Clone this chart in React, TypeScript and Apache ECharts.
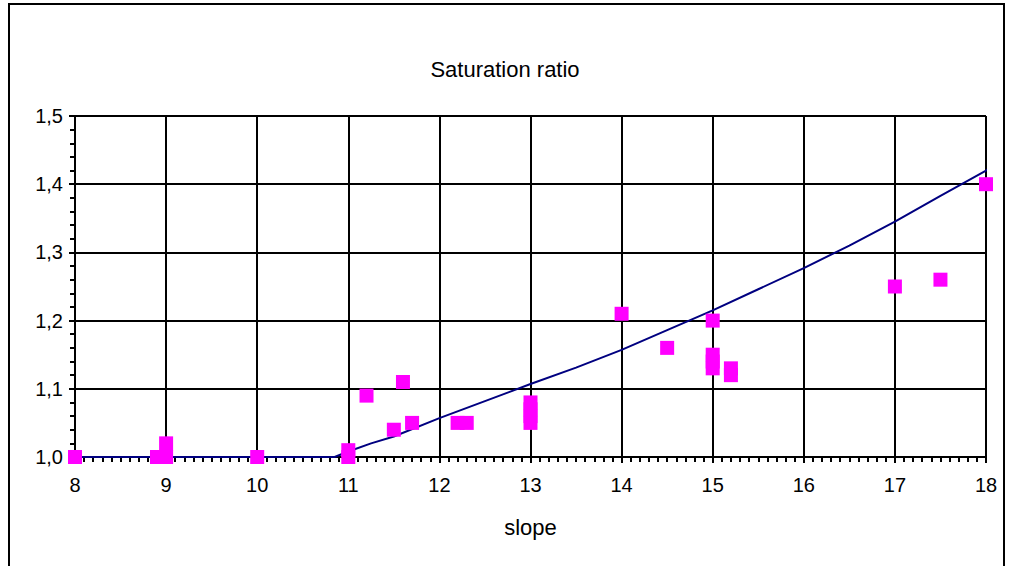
import React, { useEffect, useRef } from "react";
import * as echarts from "echarts";

const titleText = "Saturation ratio";
const xAxisName = "slope";

const pointX = [8, 8.9, 9, 9, 10, 11, 11, 11.2, 11.5, 11.6, 11.7, 12.2, 12.3, 13, 13, 13, 13, 14, 14.5, 15, 15, 15, 15, 15.2, 15.2, 17, 17.5, 18];
const pointY = [1.0, 1.0, 1.0, 1.02, 1.0, 1.0, 1.01, 1.09, 1.04, 1.11, 1.05, 1.05, 1.05, 1.05, 1.06, 1.07, 1.08, 1.21, 1.16, 1.2, 1.13, 1.14, 1.15, 1.12, 1.13, 1.25, 1.26, 1.4];

const lineX = [8, 10.85, 11, 11.25, 11.5, 12, 12.5, 13, 13.5, 14, 14.5, 15, 15.5, 16, 16.5, 17, 17.5, 18, 18.08];
const lineY = [1.0, 1.0, 1.008, 1.02, 1.03, 1.057, 1.082, 1.107, 1.131, 1.157, 1.186, 1.215, 1.246, 1.277, 1.31, 1.345, 1.383, 1.42, 1.428];

const FONT = "Liberation Sans, Arial, sans-serif";

export default function App() {
  const ref = useRef<HTMLDivElement>(null);
  useEffect(() => {
    document.body.style.margin = "0";
    const chart = echarts.init(ref.current!, undefined, { renderer: "svg" });
    chart.setOption({
      animation: false,
      backgroundColor: "#ffffff",
      title: {
        text: titleText,
        left: "center",
        top: 53,
        textStyle: { fontFamily: FONT, fontSize: 22, fontWeight: "normal", color: "#000" },
      },
      graphic: [
        {
          type: "rect",
          shape: { x: 9, y: 4, width: 995, height: 570 },
          style: { fill: "none", stroke: "#000", lineWidth: 2 },
          silent: true,
        },
      ],
      grid: { left: 75, right: 24, top: 116, bottom: 109, containLabel: false },
      xAxis: {
        type: "value",
        min: 8,
        max: 18,
        interval: 1,
        name: xAxisName,
        nameLocation: "middle",
        nameGap: 59,
        nameTextStyle: { fontFamily: FONT, fontSize: 22, color: "#000" },
        axisLine: { show: true, lineStyle: { color: "#000", width: 2 } },
        axisTick: { show: true, length: 6, lineStyle: { color: "#000", width: 2 } },
        minorTick: { show: true, splitNumber: 10, length: 5, lineStyle: { color: "#000", width: 2 } },
        axisLabel: { fontFamily: FONT, fontSize: 20, color: "#000", margin: 18 },
        splitLine: { show: true, lineStyle: { color: "#000", width: 2 } },
      },
      yAxis: {
        type: "value",
        min: 1.0,
        max: 1.5,
        interval: 0.1,
        axisLine: { show: true, lineStyle: { color: "#000", width: 2 } },
        axisTick: { show: true, length: 6, lineStyle: { color: "#000", width: 2 } },
        minorTick: { show: true, splitNumber: 5, length: 5, lineStyle: { color: "#000", width: 2 } },
        axisLabel: {
          fontFamily: FONT,
          fontSize: 20,
          color: "#000",
          margin: 12,
          formatter: (v: number) => v.toFixed(1).replace(".", ","),
        },
        splitLine: { show: true, lineStyle: { color: "#000", width: 2 } },
      },
      series: [
        {
          type: "line",
          data: lineX.map((x, i) => [x, lineY[i]]),
          showSymbol: false,
          symbol: "none",
          clip: false,
          lineStyle: { color: "#000080", width: 2 },
          z: 3,
        },
        {
          type: "scatter",
          data: pointX.map((x, i) => [x, pointY[i]]),
          symbol: "rect",
          symbolSize: 14,
          clip: false,
          itemStyle: { color: "#ff00ff", opacity: 1 },
          z: 4,
        },
      ],
    });
    return () => chart.dispose();
  }, []);
  return <div ref={ref} style={{ width: 1010, height: 566 }} />;
}
